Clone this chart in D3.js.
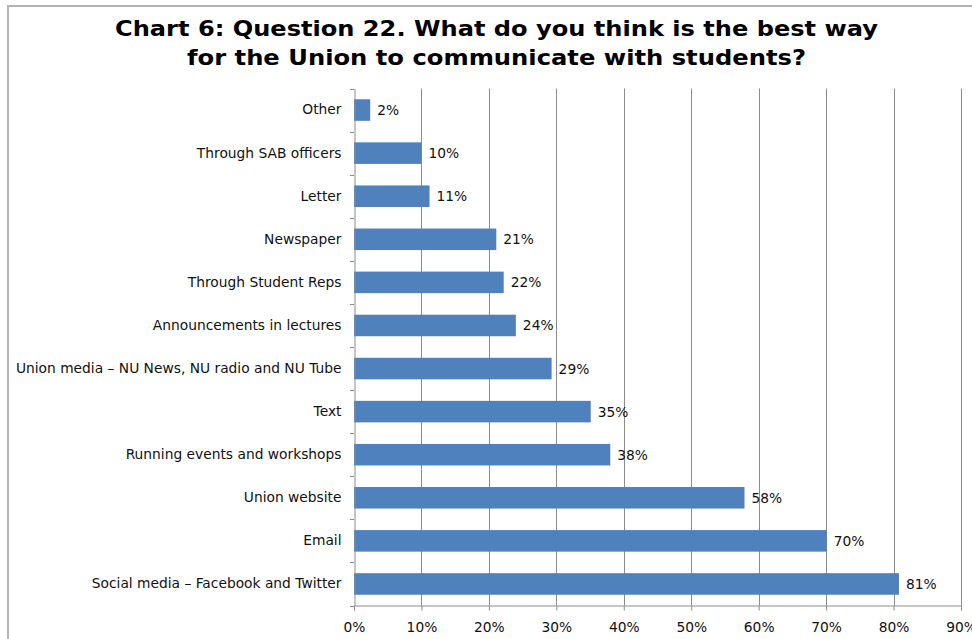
<!DOCTYPE html>
<html>
<head>
<meta charset="utf-8">
<script src="https://cdn.jsdelivr.net/npm/d3@7"></script>
<style>
  html, body { margin: 0; padding: 0; background: #fff; }
  svg { display: block; }
</style>
</head>
<body>
<svg id="chart" width="972" height="639"></svg>
<script>
const titleLines = ["Chart 6: Question 22. What do you think is the best way",
                    "for the Union to communicate with students?"];
const categories = ["Other", "Through SAB officers", "Letter", "Newspaper",
  "Through Student Reps", "Announcements in lectures",
  "Union media \u2013 NU News, NU radio and NU Tube", "Text",
  "Running events and workshops", "Union website", "Email",
  "Social media \u2013 Facebook and Twitter"];
const values = [2.4, 10.0, 11.2, 21.1, 22.2, 24.0, 29.3, 35.1, 38.0, 57.9, 70.1, 80.8];
const xTicks = [0, 10, 20, 30, 40, 50, 60, 70, 80, 90];

const svg = d3.select("#chart");
const font = "DejaVu Sans, Verdana, sans-serif";
const fs = 13.8;

// outer chart border
svg.append("rect").attr("x", 8).attr("y", 6).attr("width", 1000).attr("height", 700)
  .attr("fill", "none").attr("stroke", "#b3b3b3").attr("stroke-width", 2);

// title
const titleWidths = [763, 619];
svg.append("g").selectAll("text").data(titleLines).join("text")
  .attr("x", 496.5).attr("y", (d, i) => 35.5 + i * 29.5)
  .attr("text-anchor", "middle")
  .attr("textLength", (d, i) => titleWidths[i])
  .attr("lengthAdjust", "spacingAndGlyphs")
  .attr("font-family", font).attr("font-weight", "bold").attr("font-size", 20.5)
  .attr("fill", "#000").text(d => d);

const pLeft = 354, pRight = 961, pTop = 88.5, pBottom = 605.5;
const x = d3.scaleLinear().domain([0, 90]).range([pLeft, pRight]);
const y = d3.scaleBand().domain(categories).range([pTop, pBottom]).paddingInner(0.5).paddingOuter(0.25);

// gridlines
svg.append("g").selectAll("line").data(xTicks.slice(1)).join("line")
  .attr("x1", d => Math.round(x(d)) + 0.5).attr("x2", d => Math.round(x(d)) + 0.5)
  .attr("y1", pTop).attr("y2", pBottom)
  .attr("stroke", "#8c8c8c").attr("stroke-width", 1);

// bars
svg.append("g").selectAll("rect").data(categories).join("rect")
  .attr("x", x(0)).attr("y", d => y(d))
  .attr("width", (d, i) => x(values[i]) - x(0))
  .attr("height", y.bandwidth())
  .attr("fill", "#4f81bd");

// value labels
svg.append("g").selectAll("text").data(categories).join("text")
  .attr("x", (d, i) => x(values[i]) + 7)
  .attr("y", d => y(d) + y.bandwidth() / 2)
  .attr("dy", "0.36em")
  .attr("font-family", font).attr("font-size", fs).attr("fill", "#111")
  .text((d, i) => Math.round(values[i]) + "%");

// y axis
const yAxisScale = d3.scaleBand().domain(categories).range([pTop, pBottom]);
const yAxis = svg.append("g").attr("transform", `translate(${pLeft + 0.5},0)`)
  .call(d3.axisLeft(yAxisScale).tickSize(0).tickPadding(13));
yAxis.select(".domain").attr("stroke", "#8c8c8c");
yAxis.selectAll("text").attr("font-family", font).attr("font-size", fs).attr("fill", "#111");
// category boundary ticks
svg.append("g").selectAll("line").data(d3.range(categories.length + 1)).join("line")
  .attr("x1", pLeft - 4).attr("x2", pLeft)
  .attr("y1", i => Math.round(pTop + i * yAxisScale.step()) + 0.5)
  .attr("y2", i => Math.round(pTop + i * yAxisScale.step()) + 0.5)
  .attr("stroke", "#8c8c8c");

// x axis
const xAxis = svg.append("g").attr("transform", `translate(0,${pBottom})`)
  .call(d3.axisBottom(x).tickValues(xTicks).tickSize(5).tickPadding(12).tickFormat(d => d + "%"));
xAxis.select(".domain").attr("stroke", "#8c8c8c");
xAxis.selectAll(".tick line").attr("stroke", "#8c8c8c");
xAxis.selectAll("text").attr("font-family", font).attr("font-size", fs).attr("fill", "#111");
</script>
</body>
</html>
